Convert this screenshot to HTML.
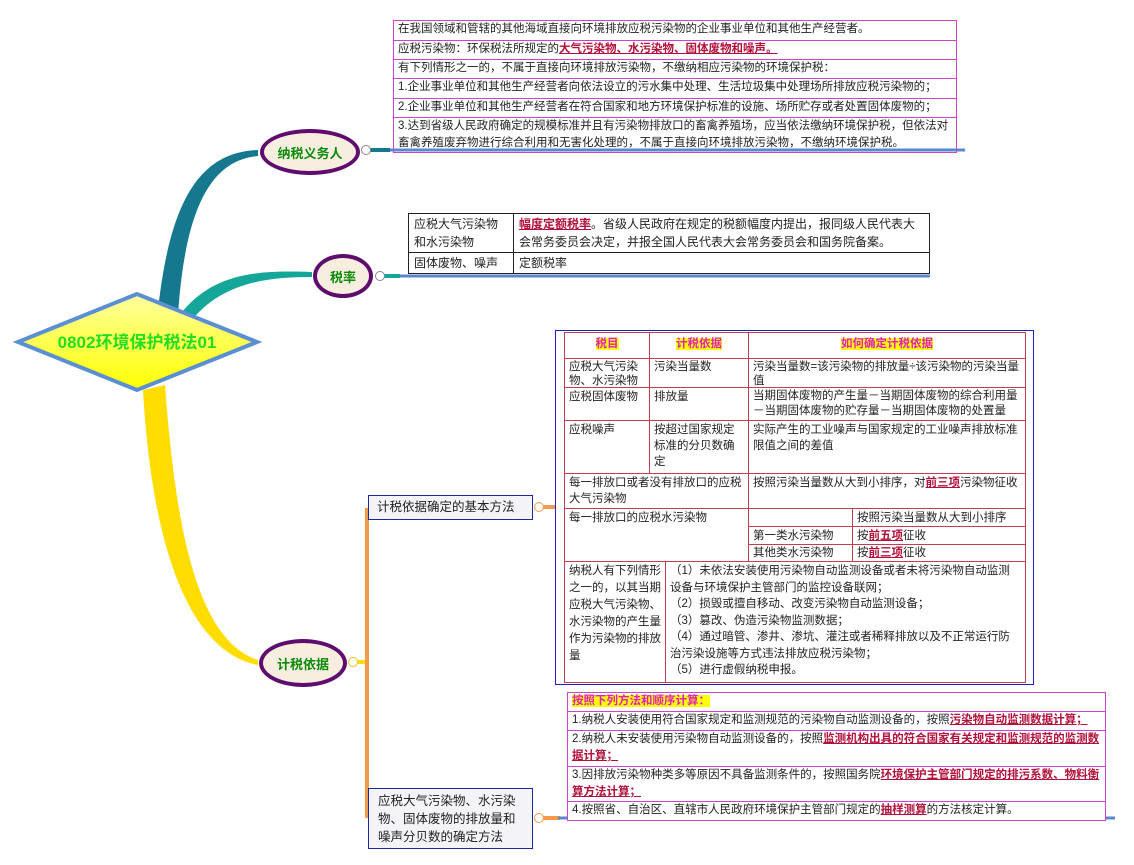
<!DOCTYPE html>
<html><head><meta charset="utf-8"><style>
body{margin:0;width:1134px;height:865px;background:#fff;position:relative;overflow:hidden;font-family:"Liberation Sans","Noto Sans CJK SC",sans-serif;}
.a{position:absolute;box-sizing:border-box;}
.t{font-size:11.5px;color:#222;line-height:17px;}
.mg{border:1px solid #cc44cc;}
.row{border-bottom:1px solid #cc44cc;padding:0 4px;white-space:nowrap;overflow:hidden;}
.red{color:#b0103a;font-weight:bold;text-decoration:underline;}
.hl{background:#ffff00;color:#e020c0;font-weight:bold;}
table{border-collapse:collapse;}
td{padding:1px 5px;vertical-align:top;font-size:12px;line-height:18px;color:#222;}
.bt td{border:1px solid #222;}
.c{position:absolute;box-sizing:border-box;border:1px solid #c04050;font-size:11.5px;line-height:16px;color:#222;padding:1px 4px;overflow:hidden;}
.ell{border:4px solid #5e0c6e;background:#f8eedf;border-radius:50%;color:#0a8a0a;font-weight:bold;font-size:13px;display:flex;align-items:center;justify-content:center;}
.col{width:10px;height:10px;border:1px solid #888;border-radius:50%;background:#fff;}
.box{border:1px solid #1a2a9a;background:#f4f4f8;font-size:12.5px;color:#222;padding:3px 9px;line-height:18px;}
</style></head><body>
<svg class="a" style="left:0;top:0" width="1134" height="865">
<path d="M158 310 C170 200 200 152 258 150 L258 156 C210 160 185 210 178 315 Z" fill="#16788f"/>
<path d="M190 322 C220 285 260 277 312 277 L312 272 C260 270 215 272 182 312 Z" fill="#14a698"/>
<path d="M143 390 C150 520 180 650 258 665 L258 660 C195 640 175 520 165 385 Z" fill="#ffdd00"/>
<line x1="370" y1="150" x2="965" y2="150" stroke="#5b88cc" stroke-width="3"/>
<line x1="370" y1="150" x2="390" y2="150" stroke="#16788f" stroke-width="4"/>
<line x1="383" y1="276" x2="930" y2="276" stroke="#5b88cc" stroke-width="3"/>
<line x1="383" y1="276" x2="400" y2="276" stroke="#14a698" stroke-width="4"/>
<line x1="358" y1="662" x2="368" y2="662" stroke="#ffdd00" stroke-width="4"/>
<line x1="367" y1="508" x2="367" y2="818" stroke="#f59a48" stroke-width="4"/>
<line x1="543" y1="507" x2="556" y2="507" stroke="#f59a48" stroke-width="4"/>
<line x1="543" y1="818" x2="560" y2="818" stroke="#f59a48" stroke-width="4"/>
<line x1="558" y1="818" x2="1115" y2="818" stroke="#5b88cc" stroke-width="3"/>
<defs><linearGradient id="g" x1="0" y1="0" x2="0" y2="1"><stop offset="0" stop-color="#ffffa0"/><stop offset="1" stop-color="#ffff00"/></linearGradient></defs>
<polygon points="18,342 137,294 257,342 137,390" fill="url(#g)" stroke="#5b8fd4" stroke-width="4"/>
<text x="137" y="348" text-anchor="middle" font-size="17" font-weight="bold" fill="#22dd22" font-family="Liberation Sans,Noto Sans CJK SC,sans-serif">0802环境保护税法01</text>
</svg>
<div class="a ell" style="left:260px;top:129px;width:100px;height:46px">纳税义务人</div>
<div class="a ell" style="left:313px;top:254px;width:60px;height:44px">税率</div>
<div class="a ell" style="left:259px;top:639px;width:88px;height:48px">计税依据</div>
<div class="a col" style="left:361px;top:145px"></div>
<div class="a col" style="left:375px;top:271px"></div>
<div class="a col" style="left:348px;top:657px;border-color:#e8c020"></div>
<div class="a col" style="left:534px;top:502px;border-color:#f59a48"></div>
<div class="a col" style="left:534px;top:813px;border-color:#f59a48"></div>

<div class="a mg t" style="left:393px;top:20px;width:564px;border-bottom:none">
<div class="row" style="height:19px">在我国领域和管辖的其他海域直接向环境排放应税污染物的企业事业单位和其他生产经营者。</div>
<div class="row" style="height:18px">应税污染物：环保税法所规定的<span class="red">大气污染物、水污染物、固体废物和噪声。</span></div>
<div class="row" style="height:18px">有下列情形之一的，不属于直接向环境排放污染物，不缴纳相应污染物的环境保护税：</div>
<div class="row" style="height:19px">1.企业事业单位和其他生产经营者向依法设立的污水集中处理、生活垃圾集中处理场所排放应税污染物的；</div>
<div class="row" style="height:18px">2.企业事业单位和其他生产经营者在符合国家和地方环境保护标准的设施、场所贮存或者处置固体废物的；</div>
<div class="row" style="height:34px;white-space:normal">3.达到省级人民政府确定的规模标准并且有污染物排放口的畜禽养殖场，应当依法缴纳环境保护税，但依法对畜禽养殖废弃物进行综合利用和无害化处理的，不属于直接向环境排放污染物，不缴纳环境保护税。</div>
</div>

<table class="a bt" style="left:408px;top:213px;width:522px;table-layout:fixed">
<tr style="height:38px"><td style="width:94px">应税大气污染物和水污染物</td><td><span class="red">幅度定额税率</span>。省级人民政府在规定的税额幅度内提出，报同级人民代表大会常务委员会决定，并报全国人民代表大会常务委员会和国务院备案。</td></tr>
<tr><td style="white-space:nowrap;overflow:hidden">固体废物、噪声</td><td>定额税率</td></tr>
</table>

<div class="a box" style="left:368px;top:495px;width:165px;height:25px;padding:2px 8px">计税依据确定的基本方法</div>
<div class="a box" style="left:368px;top:788px;width:165px;height:61px">应税大气污染物、水污染物、固体废物的排放量和噪声分贝数的确定方法</div>

<div class="a" style="left:555px;top:330px;width:479px;height:355px;border:1px solid #2020c0"></div>
<div class="a" style="left:564px;top:332px;width:462px;height:351px;background:#fff"></div>
<div class="c" style="left:564px;top:332px;width:86px;height:27px;text-align:center;padding-top:3px"><span class="hl">税目</span></div>
<div class="c" style="left:649px;top:332px;width:100px;height:27px;text-align:center;padding-top:3px"><span class="hl">计税依据</span></div>
<div class="c" style="left:748px;top:332px;width:278px;height:27px;text-align:center;padding-top:3px"><span class="hl">如何确定计税依据</span></div>

<div class="c" style="left:564px;top:358px;width:86px;height:30px;line-height:14px">应税大气污染物、水污染物</div>
<div class="c" style="left:649px;top:358px;width:100px;height:30px;line-height:14px">污染当量数</div>
<div class="c" style="left:748px;top:358px;width:278px;height:30px;line-height:14px">污染当量数=该污染物的排放量÷该污染物的污染当量值</div>

<div class="c" style="left:564px;top:387px;width:86px;height:34px">应税固体废物</div>
<div class="c" style="left:649px;top:387px;width:100px;height:34px">排放量</div>
<div class="c" style="left:748px;top:387px;width:278px;height:34px;line-height:15px">当期固体废物的产生量－当期固体废物的综合利用量－当期固体废物的贮存量－当期固体废物的处置量</div>

<div class="c" style="left:564px;top:420px;width:86px;height:54px">应税噪声</div>
<div class="c" style="left:649px;top:420px;width:100px;height:54px">按超过国家规定标准的分贝数确定</div>
<div class="c" style="left:748px;top:420px;width:278px;height:54px">实际产生的工业噪声与国家规定的工业噪声排放标准限值之间的差值</div>

<div class="c" style="left:564px;top:473px;width:185px;height:36px">每一排放口或者没有排放口的应税大气污染物</div>
<div class="c" style="left:748px;top:473px;width:278px;height:36px;white-space:nowrap">按照污染当量数从大到小排序，对<span class="red">前三项</span>污染物征收</div>

<div class="c" style="left:564px;top:508px;width:185px;height:54px">每一排放口的应税水污染物</div>
<div class="c" style="left:748px;top:508px;width:105px;height:19px"></div>
<div class="c" style="left:852px;top:508px;width:174px;height:19px;white-space:nowrap">按照污染当量数从大到小排序</div>
<div class="c" style="left:748px;top:526px;width:105px;height:19px">第一类水污染物</div>
<div class="c" style="left:852px;top:526px;width:174px;height:19px">按<span class="red">前五项</span>征收</div>
<div class="c" style="left:748px;top:544px;width:105px;height:18px;line-height:15px">其他类水污染物</div>
<div class="c" style="left:852px;top:544px;width:174px;height:18px;line-height:15px">按<span class="red">前三项</span>征收</div>

<div class="c" style="left:564px;top:561px;width:102px;height:122px;line-height:17px">纳税人有下列情形之一的，以其当期应税大气污染物、水污染物的产生量作为污染物的排放量</div>
<div class="c" style="left:665px;top:561px;width:361px;height:122px;line-height:16.5px">（1）未依法安装使用污染物自动监测设备或者未将污染物自动监测设备与环境保护主管部门的监控设备联网；<br>（2）损毁或擅自移动、改变污染物自动监测设备；<br>（3）篡改、伪造污染物监测数据；<br>（4）通过暗管、渗井、渗坑、灌注或者稀释排放以及不正常运行防治污染设施等方式违法排放应税污染物；<br>（5）进行虚假纳税申报。</div>

<div class="a mg t" style="left:567px;top:692px;width:539px;border-bottom:none;background:#fff">
<div class="row" style="height:18px"><span class="hl" style="color:#e020c0">按照下列方法和顺序计算：</span></div>
<div class="row" style="height:18px">1.纳税人安装使用符合国家规定和监测规范的污染物自动监测设备的，按照<span class="red">污染物自动监测数据计算；</span></div>
<div class="row" style="height:35px;white-space:normal">2.纳税人未安装使用污染物自动监测设备的，按照<span class="red">监测机构出具的符合国家有关规定和监测规范的监测数据计算；</span></div>
<div class="row" style="height:34px;white-space:normal">3.因排放污染物种类多等原因不具备监测条件的，按照国务院<span class="red">环境保护主管部门规定的排污系数、物料衡算方法计算；</span></div>
<div class="row" style="height:18px">4.按照省、自治区、直辖市人民政府环境保护主管部门规定的<span class="red">抽样测算</span>的方法核定计算。</div>
</div>
</body></html>
